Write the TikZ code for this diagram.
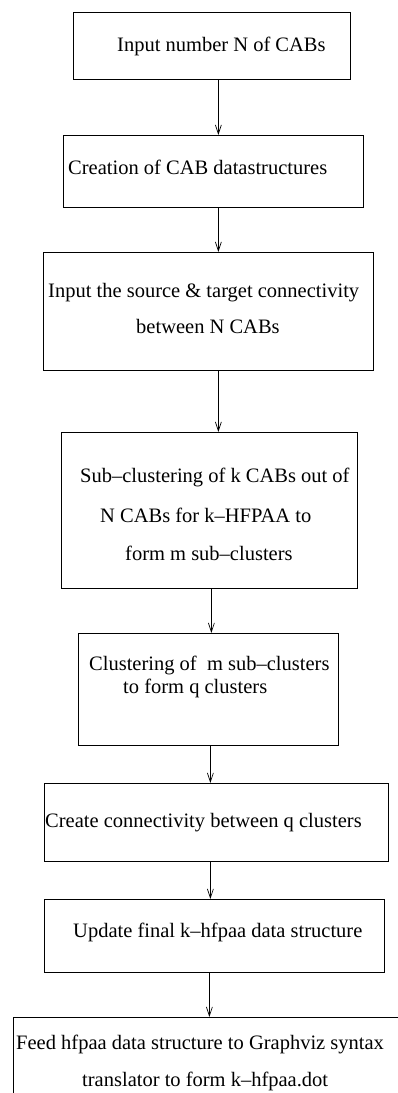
\documentclass[tikz,border=0pt]{standalone}
\usepackage{fontspec}
\setmainfont{Liberation Serif}
\usetikzlibrary{arrows.meta}
\begin{document}
\begin{tikzpicture}[x=1pt,y=-1pt,
  stepbox/.style={draw, line width=0.8pt, rectangle, inner sep=0pt, anchor=north west},
  txt/.style={inner sep=0pt, anchor=base west, font=\fontsize{20.5}{24}\selectfont},
  flow/.style={line width=0.7pt, -{Straight Barb[length=9pt,width=6pt,line width=0.7pt]}}]
\clip (0,0) rectangle (398,1093);
\fill[white] (0,0) rectangle (398,1093);

% process boxes
\node[stepbox, minimum width=277pt, minimum height=67pt]  (b1) at (73,12)  {};
\node[stepbox, minimum width=300pt, minimum height=72pt]  (b2) at (63,135) {};
\node[stepbox, minimum width=330pt, minimum height=118pt] (b3) at (43,252) {};
\node[stepbox, minimum width=296pt, minimum height=156pt] (b4) at (61,432) {};
\node[stepbox, minimum width=260pt, minimum height=112pt] (b5) at (78,633) {};
\node[stepbox, minimum width=344pt, minimum height=78pt]  (b6) at (44,783) {};
\node[stepbox, minimum width=340pt, minimum height=73pt]  (b7) at (44,899) {};
\node[stepbox, minimum width=420pt, minimum height=120pt] (b8) at (13,1017) {};

% box texts
\node[txt] (t1)  at (117,51)  {Input number N of CABs};
\node[txt] (t2)  at (68,174)  {Creation of CAB datastructures};
\node[txt] (t3a) at (48,297)  {Input the source \& target connectivity};
\node[txt] (t3b) at (136,333) {between N CABs};
\node[txt] (t4a) at (80,482)  {Sub–clustering of k CABs out of};
\node[txt] (t4b) at (100,522) {N CABs for k–HFPAA to};
\node[txt] (t4c) at (125,560) {form m sub–clusters};
\node[txt] (t5a) at (89,670)  {Clustering of\ \ m sub–clusters};
\node[txt] (t5b) at (123,693) {to form q clusters};
\node[txt] (t6)  at (45,827)  {Create connectivity between q clusters};
\node[txt] (t7)  at (73,937)  {Update final k–hfpaa data structure};
\node[txt] (t8a) at (16,1049) {Feed hfpaa data structure to Graphviz syntax};
\node[txt] (t8b) at (82,1086) {translator to form k–hfpaa.dot};

% flow arrows
\draw[flow] ([xshift=6.5pt]b1.south) -- ([xshift=6.5pt]b1.south |- b2.north);
\draw[flow] ([xshift=5pt]b2.south)   -- ([xshift=5pt]b2.south |- b3.north);
\draw[flow] ([xshift=10pt]b3.south)  -- ([xshift=10pt]b3.south |- b4.north);
\draw[flow] ([xshift=2pt]b4.south)   -- ([xshift=2pt]b4.south |- b5.north);
\draw[flow] ([xshift=2pt]b5.south)   -- ([xshift=2pt]b5.south |- b6.north);
\draw[flow] ([xshift=-6pt]b6.south)  -- ([xshift=-6pt]b6.south |- b7.north);
\draw[flow] ([xshift=-5pt]b7.south)  -- ([xshift=-5pt]b7.south |- b8.north);
\end{tikzpicture}
\end{document}
